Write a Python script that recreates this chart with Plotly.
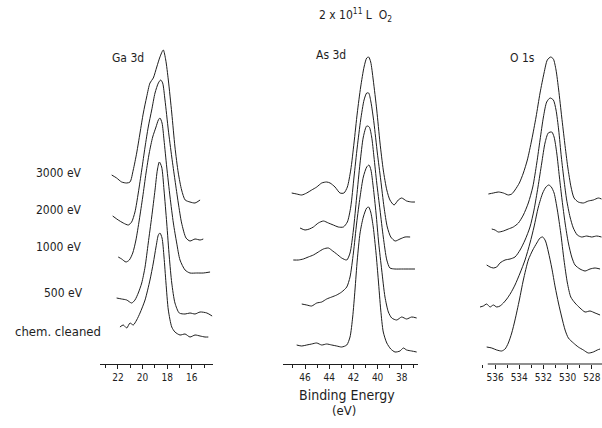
import plotly.graph_objects as go

# ---------------- data (binding energy in eV, intensity in arb. units, stacked) ----------------
CONDITIONS = ["3000 eV", "2000 eV", "1000 eV", "500 eV", "chem. cleaned"]
PANELS = ["Ga 3d", "As 3d", "O 1s"]

GA_3000_E = [22.51, 22.11, 21.70, 21.29, 21.02, 20.76, 20.48, 20.21, 19.94, 19.67, 19.40, 19.13, 18.85, 18.59, 18.32, 18.12, 17.91, 17.63, 17.37, 17.10, 16.83, 16.54, 16.15, 15.74, 15.33]
GA_3000_I = [189, 186, 182, 181, 182, 194, 211, 231, 251, 267, 281, 286, 297, 307, 314, 304, 284, 251, 217, 191, 174, 164, 162, 161, 164]
GA_2000_E = [22.43, 21.98, 21.57, 21.16, 20.89, 20.62, 20.35, 20.07, 19.80, 19.54, 19.26, 18.99, 18.72, 18.53, 18.37, 18.18, 17.91, 17.63, 17.37, 17.10, 16.83, 16.47, 16.15, 15.74, 15.33, 15.07]
GA_2000_I = [148, 144, 141, 139, 142, 152, 171, 194, 217, 237, 254, 271, 281, 284, 281, 264, 234, 207, 184, 161, 141, 126, 123, 125, 124, 125]
GA_1000_E = [21.98, 21.70, 21.35, 21.08, 20.80, 20.54, 20.27, 19.99, 19.72, 19.46, 19.18, 18.91, 18.72, 18.59, 18.42, 18.26, 18.04, 17.77, 17.50, 17.23, 16.96, 16.55, 16.15, 15.60, 15.07, 14.52]
GA_1000_I = [107, 105, 102, 104, 111, 124, 144, 167, 191, 211, 227, 237, 244, 246, 241, 224, 197, 167, 141, 121, 104, 94, 91, 91, 91, 92]
GA_500_E = [22.11, 21.70, 21.29, 20.89, 20.62, 20.35, 20.07, 19.80, 19.54, 19.26, 18.99, 18.80, 18.64, 18.45, 18.26, 18.04, 17.83, 17.63, 17.37, 17.02, 16.55, 16.15, 15.74, 15.33, 14.78, 14.35]
GA_500_I = [66, 65, 64, 61, 64, 71, 81, 97, 121, 147, 174, 194, 202, 197, 174, 141, 107, 81, 61, 51, 50, 51, 50, 52, 51, 48]
GA_CHEM_E = [21.84, 21.57, 21.29, 21.02, 20.76, 20.48, 20.21, 19.80, 19.40, 19.13, 18.91, 18.72, 18.59, 18.42, 18.26, 18.10, 17.91, 17.63, 17.37, 16.96, 16.55, 16.15, 15.74, 15.33, 14.93, 14.66]
GA_CHEM_I = [37, 39, 36, 41, 39, 44, 51, 64, 84, 101, 117, 129, 131, 126, 107, 81, 54, 37, 32, 29, 30, 27, 29, 28, 27, 27]

AS_3000_E = [47.10, 46.69, 46.27, 45.86, 45.45, 45.03, 44.62, 44.21, 43.93, 43.52, 43.11, 42.78, 42.50, 42.22, 41.95, 41.68, 41.40, 41.12, 40.90, 40.74, 40.57, 40.36, 40.07, 39.80, 39.53, 39.24, 38.98, 38.64, 38.29, 38.01, 37.60, 37.18, 36.91]
AS_3000_I = [171, 170, 169, 171, 174, 177, 181, 182, 181, 177, 171, 171, 177, 194, 221, 251, 277, 297, 306, 307, 302, 284, 254, 221, 194, 174, 164, 159, 164, 166, 163, 162, 162]
AS_2000_E = [46.41, 46.00, 45.64, 45.31, 44.90, 44.48, 44.07, 43.66, 43.25, 42.83, 42.50, 42.22, 41.95, 41.68, 41.40, 41.12, 40.90, 40.74, 40.55, 40.30, 40.02, 39.74, 39.47, 39.20, 38.91, 38.55, 38.15, 37.73, 37.31]
AS_2000_I = [136, 134, 135, 137, 141, 143, 141, 139, 137, 137, 142, 157, 187, 217, 244, 264, 271, 271, 262, 241, 211, 184, 157, 137, 127, 123, 125, 127, 127]
AS_1000_E = [46.97, 46.55, 46.14, 45.73, 45.31, 44.90, 44.48, 44.07, 43.71, 43.38, 42.97, 42.55, 42.28, 42.00, 41.73, 41.45, 41.18, 40.90, 40.69, 40.49, 40.30, 40.07, 39.80, 39.53, 39.24, 38.98, 38.57, 38.01, 37.32, 36.91]
AS_1000_I = [104, 104, 105, 107, 109, 112, 115, 116, 113, 110, 106, 104, 111, 134, 167, 201, 227, 238, 237, 227, 207, 181, 154, 127, 104, 96, 95, 95, 95, 95]
AS_500_E = [46.27, 45.86, 45.45, 45.03, 44.62, 44.21, 43.79, 43.38, 42.97, 42.55, 42.28, 42.00, 41.73, 41.45, 41.18, 40.90, 40.71, 40.55, 40.36, 40.13, 39.91, 39.66, 39.39, 39.11, 38.83, 38.42, 38.01, 37.60, 37.18, 36.77]
AS_500_I = [60, 59, 58, 61, 62, 65, 67, 69, 72, 77, 87, 111, 141, 167, 187, 197, 199, 194, 177, 151, 121, 94, 67, 52, 46, 44, 47, 45, 47, 46]
AS_CHEM_E = [46.69, 46.27, 45.86, 45.45, 45.03, 44.62, 44.21, 43.79, 43.38, 42.97, 42.55, 42.28, 42.06, 41.87, 41.68, 41.45, 41.18, 40.90, 40.74, 40.57, 40.36, 40.13, 39.94, 39.74, 39.53, 39.24, 38.91, 38.56, 38.15, 37.87, 37.60, 37.18, 36.77]
AS_CHEM_I = [19, 18, 19, 20, 21, 19, 20, 19, 18, 17, 19, 27, 47, 74, 104, 131, 147, 156, 157, 152, 137, 111, 84, 54, 32, 21, 15, 12, 13, 16, 14, 13, 12]

O_3000_E = [536.55, 536.14, 535.73, 535.31, 534.90, 534.62, 534.35, 533.99, 533.66, 533.33, 532.97, 532.61, 532.28, 531.95, 531.68, 531.40, 531.18, 530.96, 530.74, 530.49, 530.24, 529.99, 529.72, 529.47, 529.12, 528.70, 528.29, 527.88, 527.46, 527.20]
O_3000_I = [170, 171, 172, 171, 169, 170, 174, 181, 191, 204, 224, 247, 271, 291, 304, 307, 305, 294, 274, 247, 221, 197, 177, 166, 162, 161, 163, 164, 166, 165]
O_2000_E = [536.27, 536.00, 535.73, 535.31, 534.90, 534.49, 534.07, 533.66, 533.25, 532.88, 532.55, 532.28, 532.00, 531.73, 531.45, 531.18, 530.96, 530.74, 530.52, 530.30, 530.08, 529.80, 529.53, 529.20, 528.84, 528.42, 528.01, 527.60, 527.20]
O_2000_I = [135, 134, 132, 133, 135, 137, 141, 149, 161, 177, 201, 224, 247, 262, 266, 264, 254, 234, 207, 184, 164, 147, 136, 129, 127, 128, 127, 128, 127]
O_1000_E = [536.69, 536.41, 536.14, 535.86, 535.59, 535.17, 534.76, 534.35, 533.93, 533.52, 533.11, 532.78, 532.45, 532.14, 531.87, 531.60, 531.31, 531.12, 530.90, 530.68, 530.46, 530.21, 529.94, 529.66, 529.39, 528.98, 528.56, 528.15, 527.73, 527.32]
O_1000_I = [99, 97, 96, 97, 101, 104, 105, 107, 114, 124, 137, 154, 177, 201, 221, 231, 232, 227, 211, 187, 164, 141, 121, 107, 99, 95, 93, 95, 96, 95]
O_500_E = [537.24, 536.97, 536.69, 536.41, 536.14, 535.86, 535.59, 535.31, 535.03, 534.70, 534.35, 533.93, 533.52, 533.11, 532.78, 532.42, 532.06, 531.79, 531.56, 531.35, 531.12, 530.85, 530.57, 530.30, 530.02, 529.74, 529.39, 528.98, 528.56, 528.15, 527.73, 527.32]
O_500_I = [57, 58, 60, 57, 59, 57, 58, 61, 65, 71, 79, 91, 104, 121, 137, 157, 171, 177, 179, 177, 171, 154, 131, 104, 81, 67, 61, 56, 52, 53, 51, 49]
O_CHEM_E = [536.69, 536.27, 535.86, 535.45, 535.17, 534.90, 534.62, 534.35, 533.99, 533.66, 533.25, 532.88, 532.55, 532.28, 532.06, 531.83, 531.59, 531.31, 531.03, 530.76, 530.49, 530.21, 529.94, 529.52, 529.12, 528.70, 528.29, 527.88, 527.55, 527.32]
O_CHEM_I = [17, 16, 14, 13, 15, 21, 31, 44, 64, 84, 104, 114, 121, 126, 127, 123, 112, 96, 77, 61, 47, 34, 26, 21, 17, 14, 11, 12, 14, 15]

# ---------------- figure ----------------
W, H = 602, 428
INK = "#1e1e1e"
FONT = "DejaVu Sans Condensed, Liberation Sans Narrow, DejaVu Sans, sans-serif"

series = {
    "x": [(GA_3000_E, GA_3000_I), (GA_2000_E, GA_2000_I), (GA_1000_E, GA_1000_I), (GA_500_E, GA_500_I), (GA_CHEM_E, GA_CHEM_I)],
    "x2": [(AS_3000_E, AS_3000_I), (AS_2000_E, AS_2000_I), (AS_1000_E, AS_1000_I), (AS_500_E, AS_500_I), (AS_CHEM_E, AS_CHEM_I)],
    "x3": [(O_3000_E, O_3000_I), (O_2000_E, O_2000_I), (O_1000_E, O_1000_I), (O_500_E, O_500_I), (O_CHEM_E, O_CHEM_I)],
}

fig = go.Figure()
for xa, curves in series.items():
    for name, (e, i) in zip(CONDITIONS, curves):
        fig.add_trace(go.Scatter(
            x=e, y=i, mode="lines", xaxis=xa, yaxis="y", name=name,
            line=dict(color=INK, width=1, shape="spline", smoothing=0.7),
            hoverinfo="skip", showlegend=False,
        ))

def xaxis_cfg(domain, rng, showline=True):
    return dict(
        domain=domain, range=rng, anchor="y",
        tick0=0, dtick=2, ticks="outside", ticklen=4, tickwidth=1, tickcolor=INK,
        minor=dict(dtick=1, tick0=0, ticks="outside", ticklen=3, tickwidth=1, tickcolor=INK),
        showline=showline, linecolor=INK, linewidth=1,
        showgrid=False, zeroline=False,
        tickfont=dict(family=FONT, size=10, color=INK),
        fixedrange=True,
    )

fig.update_layout(
    width=W, height=H,
    margin=dict(l=0, r=0, t=40, b=64),
    paper_bgcolor="white", plot_bgcolor="white",
    xaxis=xaxis_cfg([100 / W, 213 / W], [23.46, 14.28]),
    xaxis2=xaxis_cfg([283 / W, 418 / W], [47.82, 36.66]),
    xaxis3=xaxis_cfg([479.3 / W, 1.0], [537.3, 527.16], showline=False),
    yaxis=dict(range=[0, 324], visible=False, domain=[0, 1], fixedrange=True),
    font=dict(family=FONT, color=INK),
)

# O 1s axis line only spans the labelled region
fig.add_shape(type="line", xref="x3", yref="paper", x0=536.6, x1=527.16, y0=0, y1=0,
              line=dict(color=INK, width=1))

def py(p):  # pixel row -> paper coordinate
    return (364 - p) / 324

ann = [
    ("2 x 10<sup>11</sup> L  O<sub>2</sub>", 355, 15, 12),
    ("Ga 3d", 128, 58, 12),
    ("As 3d", 331, 55, 12),
    ("O 1s", 522, 58, 12),
    ("3000 eV", 59, 173, 12),
    ("2000 eV", 59, 210, 12),
    ("1000 eV", 59, 247, 12),
    ("500 eV", 63, 293, 12),
    ("chem. cleaned", 58, 331, 13),
    ("Binding Energy", 347, 395, 14),
    ("(eV)", 344, 410, 13),
]
for text, x, y, size in ann:
    fig.add_annotation(text=text, x=x / W, y=py(y), xref="paper", yref="paper",
                       showarrow=False, xanchor="center", yanchor="middle",
                       font=dict(family=FONT, size=size, color=INK))

fig.write_html(
    "out.html",
    config={"displayModeBar": False, "staticPlot": True},
    post_script="document.body.style.margin='0';document.body.style.overflow='hidden';",
)
